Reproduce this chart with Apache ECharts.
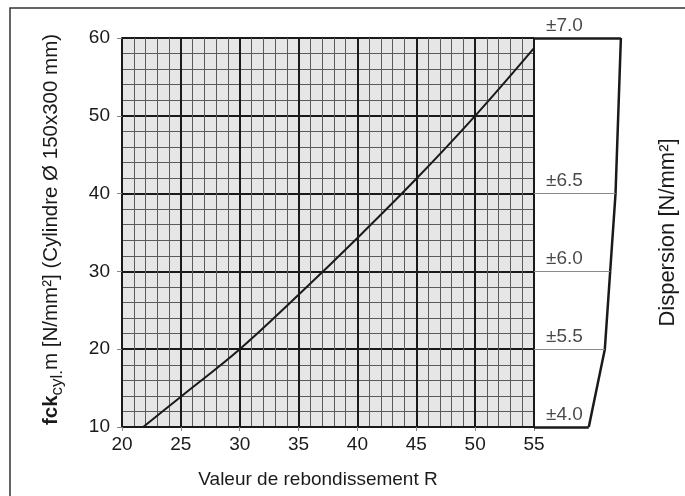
<!DOCTYPE html>
<html>
<head>
<meta charset="utf-8">
<script src="https://cdn.jsdelivr.net/npm/echarts@6/dist/echarts.min.js"></script>
<style>html,body{margin:0;padding:0;background:#fff;}#c{width:685px;height:496px;}</style>
</head>
<body>
<div id="c"></div>
<script>
// Calibration curve: rebound value R -> fck,cyl,m
var reboundR = [21.8, 25, 30, 35, 40, 45, 50, 55];
var fckCyl   = [10, 13.9, 20, 27.0, 34.3, 41.9, 50, 58.7];
// Dispersion panel
var dispLevels = [60, 40, 30, 20, 10];
var dispValues = [7.0, 6.5, 6.0, 5.5, 4.0];
var dispLabels = ['±7.0', '±6.5', '±6.0', '±5.5', '±4.0'];
var xTicks = [20, 25, 30, 35, 40, 45, 50, 55];
var yTicks = [10, 20, 30, 40, 50, 60];

var FONT = 'Liberation Sans, Arial, Helvetica, sans-serif';
var PMIN = -1.12, PMAX = 8.88;

var curve = reboundR.map(function (r, i) { return [r, fckCyl[i]]; });
var boundary = dispValues.map(function (d, i) { return [d, dispLevels[i]]; });
var markData = dispLevels.map(function (y, i) {
  var heavy = (i === 0 || i === dispLevels.length - 1);
  return [
    { coord: [PMIN, y], lineStyle: { color: heavy ? '#1a1a1a' : '#8a8a8a', width: heavy ? 2.5 : 1, type: 'solid' } },
    { coord: [dispValues[i], y] }
  ];
});
var labelData = dispLevels.map(function (y, i) { return { value: [0, y], name: dispLabels[i] }; });

var chart = echarts.init(document.getElementById('c'));
chart.setOption({
  animation: false,
  backgroundColor: '#fff',
  textStyle: { fontFamily: FONT },
  grid: [
    { left: 122, top: 38, width: 412, height: 389, show: true, backgroundColor: '#e6e6e6', borderWidth: 0 },
    { left: 534, top: 38, width: 107, height: 389, show: false }
  ],
  xAxis: [
    {
      gridIndex: 0, type: 'value', min: 20, max: 55, interval: 5,
      name: 'Valeur de rebondissement R', nameLocation: 'middle', nameGap: 43,
      nameTextStyle: { fontSize: 19, color: '#1a1a1a', fontFamily: FONT, padding: [0, 20, 0, 0] },
      axisLine: { show: true, lineStyle: { color: '#1a1a1a', width: 2 } },
      axisTick: { show: true, length: 4, lineStyle: { color: '#888', width: 1 } },
      axisLabel: { fontSize: 19, color: '#1a1a1a', margin: 8, fontFamily: FONT,
        formatter: function (v) { return xTicks.indexOf(v) >= 0 ? String(v) : ''; } },
      splitLine: { show: true, lineStyle: { color: '#1a1a1a', width: 2 } },
      minorTick: { show: true, splitNumber: 5, length: 0 },
      minorSplitLine: { show: true, lineStyle: { color: '#5a5a5a', width: 1 } }
    },
    {
      gridIndex: 1, type: 'value', min: PMIN, max: PMAX, show: false
    }
  ],
  yAxis: [
    {
      gridIndex: 0, type: 'value', min: 10, max: 60, interval: 10,
      name: '{b|fck}{s|cyl.}{n|m [N/mm²] (Cylindre Ø 150x300 mm)}',
      nameLocation: 'middle', nameGap: 56,
      nameTextStyle: {
        color: '#1a1a1a', fontFamily: FONT, padding: [0, 0, 0, 6],
        rich: {
          b: { fontSize: 20.5, fontWeight: 'bold', color: '#1a1a1a', fontFamily: FONT, lineHeight: 30, verticalAlign: 'middle' },
          s: { fontSize: 17, color: '#1a1a1a', fontFamily: FONT, lineHeight: 30, verticalAlign: 'bottom' },
          n: { fontSize: 20.5, color: '#1a1a1a', fontFamily: FONT, lineHeight: 30, verticalAlign: 'middle' }
        }
      },
      axisLine: { show: true, lineStyle: { color: '#1a1a1a', width: 2 } },
      axisTick: { show: true, length: 5, lineStyle: { color: '#888', width: 1 } },
      axisLabel: { fontSize: 19, color: '#1a1a1a', margin: 12, fontFamily: FONT,
        formatter: function (v) { return yTicks.indexOf(v) >= 0 ? String(v) : ''; } },
      splitLine: { show: true, lineStyle: { color: '#1a1a1a', width: 2 } },
      minorTick: { show: true, splitNumber: 5, length: 0 },
      minorSplitLine: { show: true, lineStyle: { color: '#5a5a5a', width: 1 } }
    },
    {
      gridIndex: 1, type: 'value', min: 10, max: 60, position: 'right',
      name: 'Dispersion [N/mm²]', nameLocation: 'middle', nameGap: 16, nameRotate: 90,
      nameTextStyle: { fontSize: 22, color: '#1a1a1a', fontFamily: FONT },
      axisLine: { show: false }, axisTick: { show: false }, axisLabel: { show: false }, splitLine: { show: false }
    }
  ],
  series: [
    {
      type: 'line', xAxisIndex: 0, yAxisIndex: 0, data: curve, smooth: 0.4,
      showSymbol: false, symbol: 'none', lineStyle: { color: '#1a1a1a', width: 2 }, z: 5
    },
    {
      type: 'line', xAxisIndex: 1, yAxisIndex: 1, data: boundary, smooth: false,
      showSymbol: false, symbol: 'none', lineStyle: { color: '#1a1a1a', width: 2.5 },
      markLine: { silent: true, symbol: 'none', label: { show: false }, data: markData }
    },
    {
      type: 'scatter', xAxisIndex: 1, yAxisIndex: 1, data: labelData, symbolSize: 0,
      label: { show: true, position: 'top', align: 'left', distance: 3, fontSize: 19, color: '#1a1a1a', fontFamily: FONT,
        formatter: function (p) { return p.name; } }
    }
  ],
  graphic: [
    { type: 'rect', shape: { x: 10, y: 8, width: 720, height: 540 }, style: { fill: null, stroke: '#333', lineWidth: 1.5 }, silent: true }
  ]
});
</script>
</body>
</html>
